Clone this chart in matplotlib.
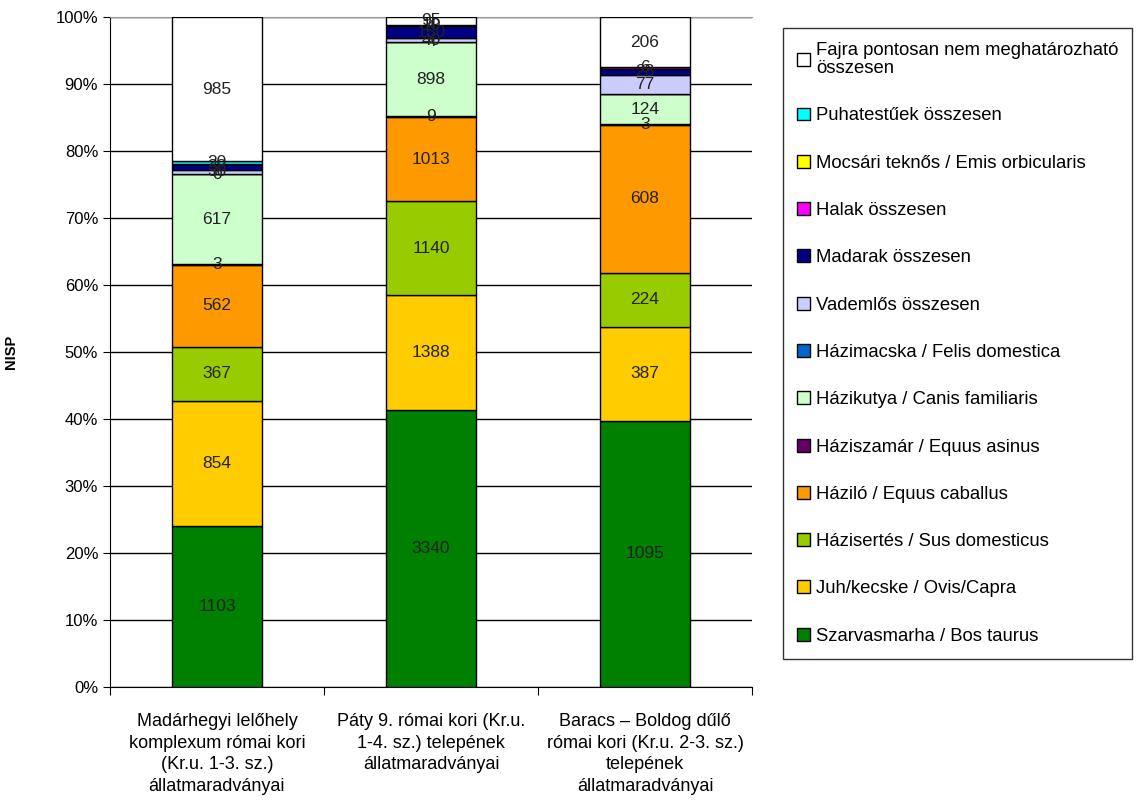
import matplotlib
matplotlib.use("Agg")
import matplotlib.pyplot as plt
import numpy as np

plt.rcParams['font.family'] = ['Liberation Sans', 'DejaVu Sans']

# categories (x axis)
sites = [
    "Madárhegyi lelőhely\nkomplexum római kori\n(Kr.u. 1-3. sz.)\nállatmaradványai",
    "Páty 9. római kori (Kr.u.\n1-4. sz.) telepének\nállatmaradványai",
    "Baracs – Boldog dűlő\nrómai kori (Kr.u. 2-3. sz.)\ntelepének\nállatmaradványai",
]

# series, bottom to top
series_names = [
    "Szarvasmarha / Bos taurus",
    "Juh/kecske / Ovis/Capra",
    "Házisertés / Sus domesticus",
    "Háziló / Equus caballus",
    "Háziszamár / Equus asinus",
    "Házikutya / Canis familiaris",
    "Házimacska / Felis domestica",
    "Vademlős összesen",
    "Madarak összesen",
    "Halak összesen",
    "Mocsári teknős / Emis orbicularis",
    "Puhatestűek összesen",
    "Fajra pontosan nem meghatározható\nösszesen",
]
series_colors = [
    "#008000", "#FFCC00", "#99CC00", "#FF9900", "#660066", "#CCFFCC",
    "#0066CC", "#CCCCFF", "#000080", "#FF00FF", "#FFFF00", "#00FFFF", "#FFFFFF",
]

# NISP counts per site (estimated for the tiny segments)
szarvasmarha = [1103, 3340, 1095]
juh_kecske = [854, 1388, 387]
hazisertes = [367, 1140, 224]
hazilo = [562, 1013, 608]
haziszamar = [3, 9, 3]
hazikutya = [617, 898, 124]
hazimacska = [0, 4, 0]
vademlos = [30, 40, 77]
madarak = [38, 150, 28]
halak = [0, 10, 6]
teknos = [0, 0, 0]
puhatestuek = [20, 4, 0]
fajra_nem = [985, 95, 206]

data = np.array([szarvasmarha, juh_kecske, hazisertes, hazilo, haziszamar,
                 hazikutya, hazimacska, vademlos, madarak, halak, teknos,
                 puhatestuek, fajra_nem], dtype=float)
totals = data.sum(axis=0)
pct = data / totals * 100

fig = plt.figure(figsize=(11.41, 8), dpi=100)
ax = fig.add_axes([0.0964, 0.14125, 0.5627, 0.8375])

x = np.arange(len(sites))
bottom = np.zeros(len(sites))
handles = []
for i, name in enumerate(series_names):
    bars = ax.bar(x, pct[i], 0.42, bottom=bottom, color=series_colors[i],
                  edgecolor="black", linewidth=1.0, label=name, zorder=3)
    handles.append(bars)
    for j in range(len(sites)):
        v = data[i, j]
        if v > 0 or (i == 6 and j == 0):
            ax.text(x[j], bottom[j] + pct[i, j] / 2, "%d" % v, ha="center",
                    va="center", fontsize=12.5, color="#222222", zorder=4)
    bottom += pct[i]

ax.set_xlim(-0.5, 2.5)
ax.set_ylim(0, 100)
ax.set_yticks(np.arange(0, 101, 10))
ax.set_yticklabels(["%d%%" % v for v in range(0, 101, 10)], fontsize=12)
ax.yaxis.grid(True, color="black", linewidth=1.0, zorder=0)
ax.set_xticks([-0.5, 0.5, 1.5, 2.5], minor=False)
ax.set_xticklabels([])
ax.set_xticks(x, minor=True)
ax.set_xticklabels(sites, minor=True, fontsize=13, linespacing=1.35)
ax.tick_params(axis="x", which="minor", length=0, pad=19)
ax.tick_params(axis="x", which="major", length=6, direction="out")
ax.tick_params(axis="y", length=5, direction="out")
ax.spines["top"].set_color("#999999")
ax.spines["right"].set_visible(False)
ax.set_ylabel("NISP", fontsize=10.5, fontweight="bold")
ax.yaxis.set_label_coords(-0.143, 0.5)

leg = fig.legend(handles[::-1], series_names[::-1], loc="upper left",
                 bbox_to_anchor=(783 / 1141, 1 - 28 / 800), fontsize=13.3,
                 frameon=True, fancybox=False, edgecolor="black",
                 handlelength=0.7, handleheight=0.7, handletextpad=0.35,
                 labelspacing=1.64, borderpad=0.75, borderaxespad=0)
leg.get_frame().set_linewidth(1.0)
leg.get_texts()[0].set_linespacing(1.1)

fig.savefig("out.png", dpi=100)
